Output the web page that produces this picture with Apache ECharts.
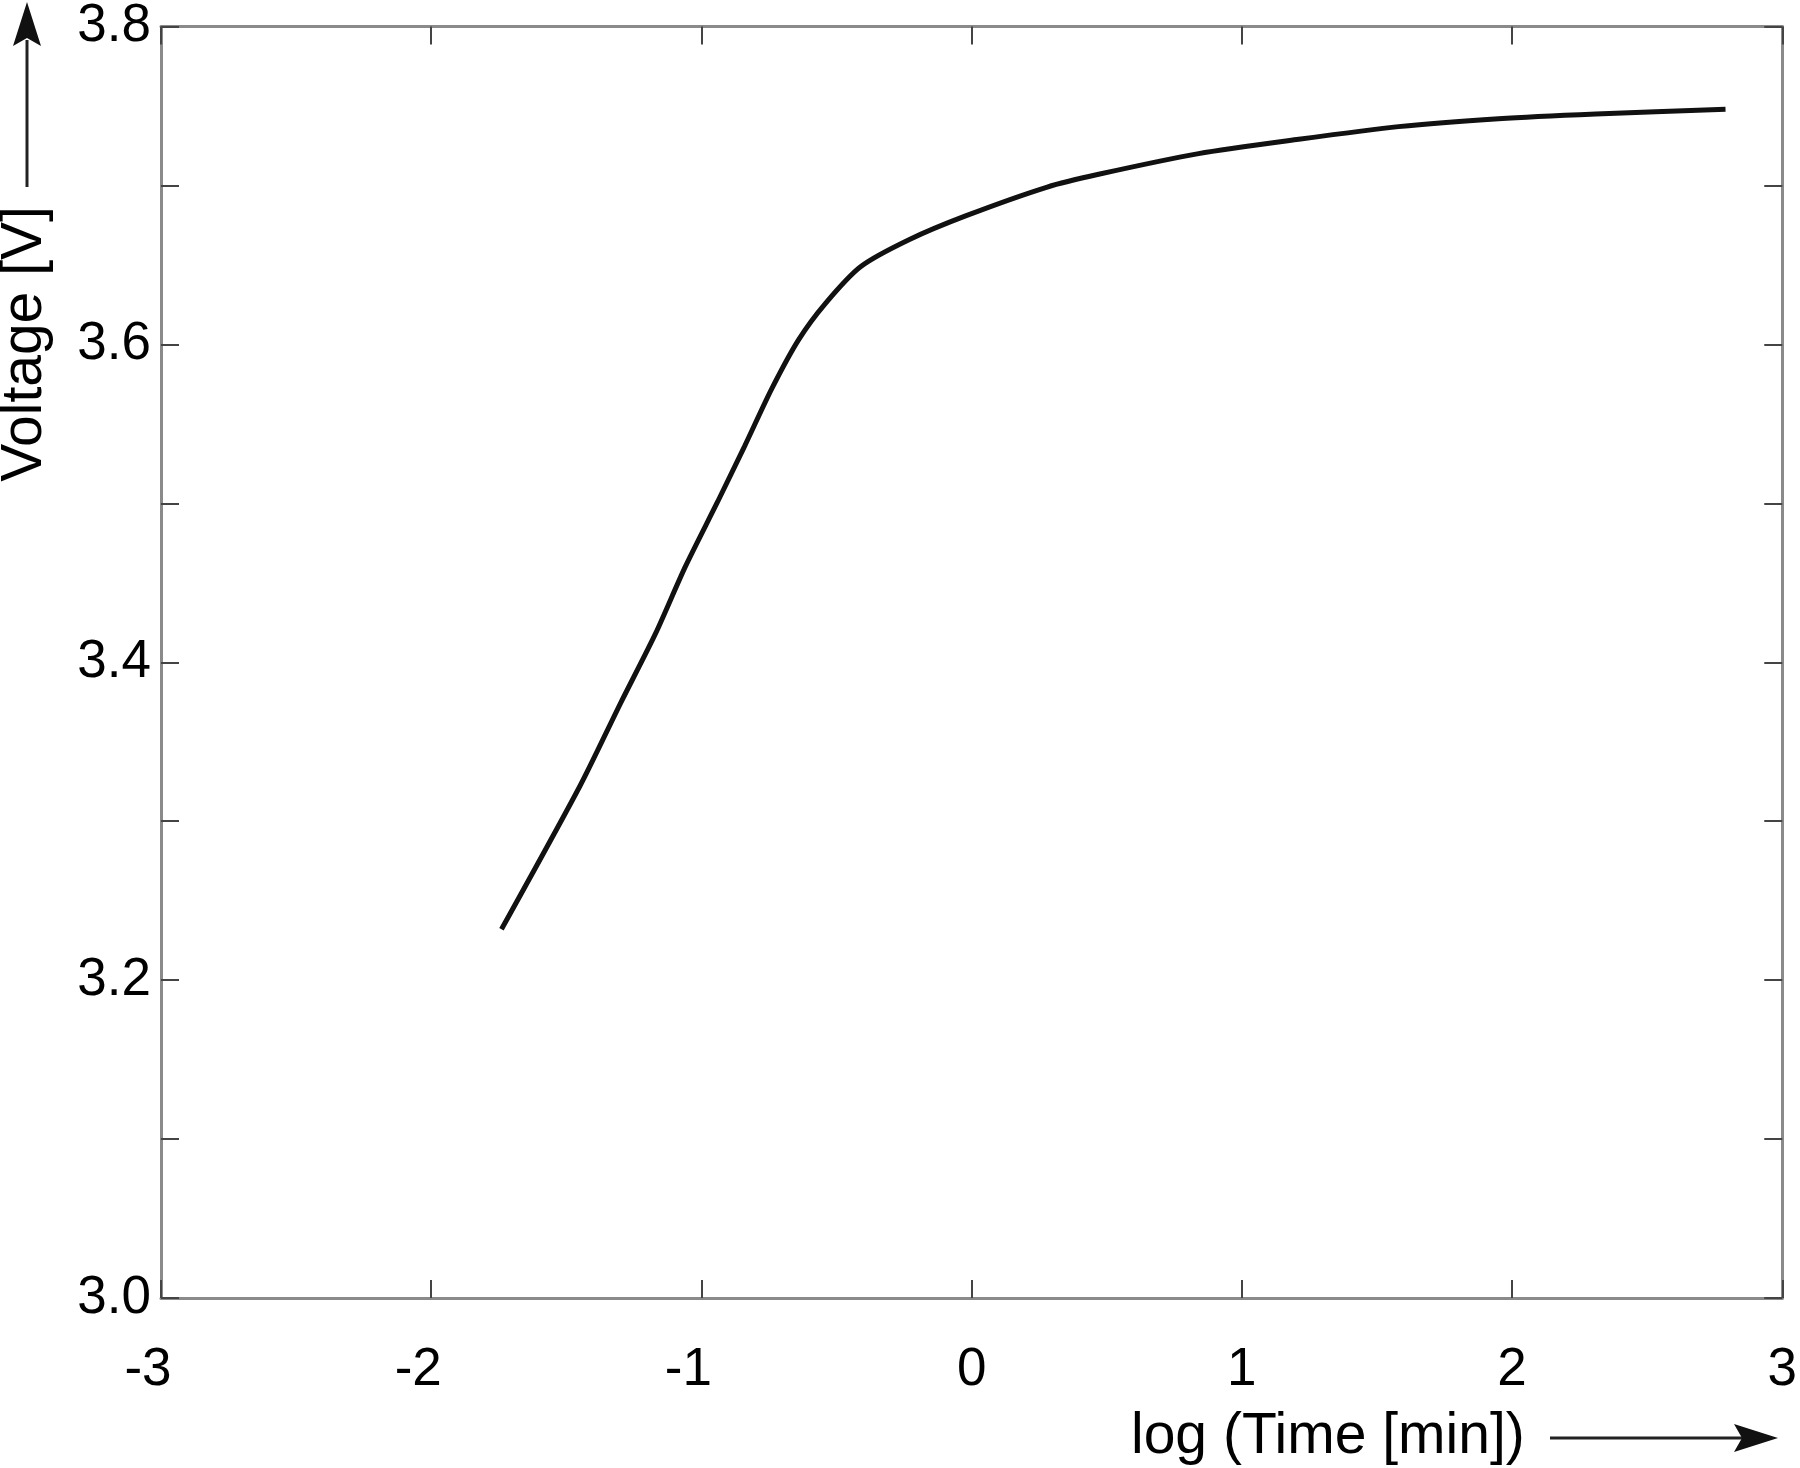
<!DOCTYPE html>
<html>
<head>
<meta charset="utf-8">
<script src="https://cdn.jsdelivr.net/npm/echarts@6/dist/echarts.min.js"></script>
<style>
  html, body { margin: 0; padding: 0; background: #fff; }
  #chart { width: 1800px; height: 1468px; }
</style>
</head>
<body>
<div id="chart"></div>
<script>
// log(Time [min]) and voltage
const logTime = [-1.74, -1.45, -1.30, -1.17, -1.06, -0.94, -0.84, -0.74, -0.64, -0.54,
  -0.41, -0.23, -0.02, 0.28, 0.47, 0.84, 1.21, 1.58, 1.95, 2.31, 2.79];
const voltage = [3.232, 3.322, 3.374, 3.418, 3.460, 3.501, 3.536, 3.572, 3.603, 3.626,
  3.649, 3.666, 3.681, 3.699, 3.707, 3.720, 3.729, 3.737, 3.742, 3.745, 3.748];

const xName = 'log (Time [min])';
const yName = 'Voltage [V]';

const font = 'Liberation Sans, Arial, sans-serif';
const axisColor = '#8a8a8a';
const tickColor = '#444';

const points = logTime.map((t, i) => [t, voltage[i]]);

const chart = echarts.init(document.getElementById('chart'));

const baseX = {
  type: 'value',
  min: -3,
  max: 3,
  interval: 1,
  splitLine: { show: false },
  axisLine: { onZero: false, lineStyle: { color: axisColor, width: 3 } },
  axisTick: { inside: true, length: 18, lineStyle: { color: tickColor, width: 2 } }
};
const baseY = {
  type: 'value',
  min: 3.0,
  max: 3.8,
  interval: 0.1,
  splitLine: { show: false },
  axisLine: { onZero: false, lineStyle: { color: axisColor, width: 3 } },
  axisTick: { inside: true, length: 18, lineStyle: { color: tickColor, width: 2 } }
};

const option = {
  backgroundColor: '#fff',
  animation: false,
  grid: { left: 161, top: 22, right: 13, bottom: 170, containLabel: false },
  xAxis: [
    Object.assign({}, baseX, {
      position: 'bottom',
      axisLabel: {
        color: '#000', fontFamily: font, fontSize: 53, margin: 46,
        formatter: v => v < 0 ? '{neg|' + v + '}' : '' + v,
        rich: { neg: { fontFamily: font, fontSize: 53, color: '#000', padding: [0, 26, 0, 0] } }
      }
    }),
    Object.assign({}, baseX, { position: 'top', axisLabel: { show: false } })
  ],
  yAxis: [
    Object.assign({}, baseY, {
      position: 'left',
      axisLabel: {
        color: '#000', fontFamily: font, fontSize: 53, margin: 10,
        formatter: v => Math.round(v * 10) % 2 === 0 ? v.toFixed(1) : ''
      }
    }),
    Object.assign({}, baseY, { position: 'right', axisLabel: { show: false } })
  ],
  series: [{
    type: 'line',
    data: points,
    showSymbol: false,
    smooth: 0.25,
    lineStyle: { color: '#111', width: 5 }
  }],
  graphic: [
    // y axis name with upward arrow
    {
      type: 'text', x: 25, y: 344, rotation: Math.PI / 2,
      style: { text: yName, font: '57px ' + font, fill: '#000', align: 'center', verticalAlign: 'middle' }
    },
    { type: 'line', shape: { x1: 27, y1: 187, x2: 27, y2: 40 }, style: { stroke: '#222', lineWidth: 3 } },
    { type: 'polygon', shape: { points: [[27, 2], [13, 46], [27, 38], [41, 46]] }, style: { fill: '#111' } },
    // x axis name with rightward arrow
    {
      type: 'text', x: 1131, y: 1437,
      style: { text: xName, font: '57px ' + font, fill: '#000', align: 'left', verticalAlign: 'middle' }
    },
    { type: 'line', shape: { x1: 1550, y1: 1438, x2: 1745, y2: 1438 }, style: { stroke: '#222', lineWidth: 3 } },
    { type: 'polygon', shape: { points: [[1778, 1438], [1734, 1424], [1742, 1438], [1734, 1452]] }, style: { fill: '#111' } }
  ]
};

chart.setOption(option);
</script>
</body>
</html>
